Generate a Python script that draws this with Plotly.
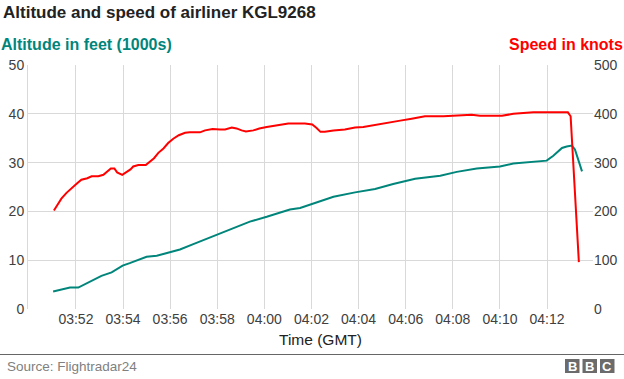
import plotly.graph_objects as go

DAY = "2015-10-31 "

speed_times = ["03:51:04", "03:51:15", "03:51:23", "03:51:36", "03:51:49", "03:52:04", "03:52:14",
               "03:52:29", "03:52:40", "03:52:57", "03:53:10", "03:53:22", "03:53:29", "03:53:38",
               "03:53:45", "03:53:58", "03:54:09", "03:54:19", "03:54:26", "03:54:39", "03:54:58",
               "03:55:08", "03:55:19", "03:55:30", "03:55:43", "03:55:55", "03:56:08", "03:56:22",
               "03:56:38", "03:56:50", "03:57:16", "03:57:29", "03:57:48", "03:58:07", "03:58:20",
               "03:58:37", "03:58:49", "03:59:02", "03:59:13", "03:59:32", "03:59:47", "04:00:06",
               "04:00:31", "04:01:01", "04:01:43", "04:02:02", "04:02:13", "04:02:23", "04:02:34",
               "04:02:56", "04:03:25", "04:03:51", "04:04:12", "04:04:38", "04:05:11", "04:05:46",
               "04:06:15", "04:06:49", "04:07:36", "04:08:18", "04:08:48", "04:09:09", "04:10:05",
               "04:10:34", "04:11:25", "04:12:16", "04:12:53", "04:13:00", "04:13:21"]
speed_knots = [202, 216, 226, 238, 248, 258, 265,
               268, 272, 272, 275, 282, 288, 288,
               280, 275, 280, 286, 292, 295, 295,
               301, 309, 320, 329, 340, 349, 356,
               361, 362, 362, 366, 369, 368, 368,
               372, 370, 366, 364, 366, 370, 373,
               376, 380, 380, 378, 371, 363, 363,
               366, 368, 372, 373, 377, 381, 386,
               390, 395, 395, 397, 398, 396, 396,
               400, 403, 403, 403, 395, 96]

alt_times = ["03:51:02", "03:51:45", "03:52:06", "03:52:27", "03:52:44", "03:53:05", "03:53:31",
             "03:53:44", "03:53:59", "03:54:17", "03:54:35", "03:55:00", "03:55:26", "03:55:59",
             "03:56:25", "03:56:59", "03:57:58", "03:58:41", "03:59:23", "04:00:06", "04:01:05",
             "04:01:31", "04:02:22", "04:02:56", "04:03:51", "04:04:42", "04:05:28", "04:06:24",
             "04:07:28", "04:08:10", "04:09:01", "04:10:00", "04:10:34", "04:11:25", "04:11:59",
             "04:12:16", "04:12:38", "04:12:50", "04:13:03", "04:13:11", "04:13:29"]
altitude_k = [3.6, 4.4, 4.4, 5.3, 6.0, 6.8, 7.5,
              8.2, 8.9, 9.4, 9.9, 10.7, 10.9, 11.6,
              12.2, 13.3, 15.2, 16.6, 17.9, 18.9, 20.4,
              20.7, 22.1, 23.0, 23.9, 24.6, 25.6, 26.7,
              27.3, 28.1, 28.8, 29.2, 29.8, 30.1, 30.4,
              31.4, 33.0, 33.3, 33.5, 32.7, 28.2]

x_tick_labels = ["03:52", "03:54", "03:56", "03:58", "04:00", "04:02",
                 "04:04", "04:06", "04:08", "04:10", "04:12"]
alt_ticks = [0, 10, 20, 30, 40, 50]
speed_ticks = [0, 100, 200, 300, 400, 500]

TEAL = "#00857b"
RED = "#ff0000"
GRID = "#d9d9d9"
FONT = "Liberation Sans, Arial, sans-serif"

W, H = 624, 379
ML, MR, MT, MB = 28, 31, 65, 70
PW = W - ML - MR
PH = H - MT - MB


def px(x):
    return (x - ML) / PW


def py(y):
    return (H - MB - y) / PH


fig = go.Figure()
fig.add_trace(go.Scatter(x=[DAY + t for t in alt_times], y=altitude_k, mode="lines",
                         line=dict(color=TEAL, width=2), yaxis="y", hoverinfo="skip"))
fig.add_trace(go.Scatter(x=[DAY + t for t in speed_times], y=speed_knots, mode="lines",
                         line=dict(color=RED, width=2), yaxis="y2", hoverinfo="skip"))

fig.update_layout(
    width=W, height=H,
    margin=dict(l=ML, r=MR, t=MT, b=MB, autoexpand=False),
    paper_bgcolor="white", plot_bgcolor="white",
    showlegend=False,
    font=dict(family=FONT, color="#404040", size=14),
    xaxis=dict(
        type="date",
        range=[DAY + "03:49:58", DAY + "04:13:57"],
        tickvals=[DAY + t + ":00" for t in x_tick_labels],
        ticktext=x_tick_labels,
        showgrid=True, gridcolor=GRID, gridwidth=1,
        zeroline=False, showline=False, ticks="",
        tickfont=dict(size=14, color="#404040"),
    ),
    yaxis=dict(
        range=[0, 50], tickvals=alt_ticks,
        showgrid=True, gridcolor=GRID, gridwidth=1,
        zeroline=False, showline=True, linecolor=GRID, linewidth=1,
        ticks="", tickfont=dict(size=14, color="#404040"),
    ),
    yaxis2=dict(
        range=[0, 500], tickvals=speed_ticks, overlaying="y", side="right",
        showgrid=False, zeroline=False, showline=False, ticks="",
        tickfont=dict(size=14, color="#404040"),
    ),
)

annotations = [
    dict(text="<b>Altitude and speed of airliner KGL9268</b>", x=px(1), y=py(12.5),
         xanchor="left", yanchor="middle", font=dict(size=17, color="#222222")),
    dict(text="<b>Altitude in feet (1000s)</b>", x=px(-1), y=py(45),
         xanchor="left", yanchor="middle", font=dict(size=16, color=TEAL)),
    dict(text="<b>Speed in knots</b>", x=px(625), y=py(45),
         xanchor="right", yanchor="middle", font=dict(size=16, color=RED)),
    dict(text="Time (GMT)", x=px(320), y=py(339),
         xanchor="center", yanchor="middle", font=dict(size=15.5, color="#222222")),
    dict(text="Source: Flightradar24", x=px(5), y=py(366),
         xanchor="left", yanchor="middle", font=dict(size=13.5, color="#808080")),
]
shapes = [
    dict(type="line", xref="paper", yref="paper", x0=px(0), x1=px(624), y0=py(354.5), y1=py(354.5),
         line=dict(color="#666666", width=1)),
]
for x0, letter in [(565, "B"), (582.5, "B"), (600, "C")]:
    shapes.append(dict(type="rect", xref="paper", yref="paper", x0=px(x0), x1=px(x0 + 14.5),
                       y0=py(373), y1=py(359), fillcolor="#6b6b6b", line=dict(width=0)))
    annotations.append(dict(text="<b>" + letter + "</b>", x=px(x0 + 7.25), y=py(366),
                            xanchor="center", yanchor="middle", showarrow=False,
                            font=dict(size=13, color="white", family=FONT)))

for a in annotations:
    a.setdefault("showarrow", False)
    a["xref"] = "paper"
    a["yref"] = "paper"
fig.update_layout(annotations=annotations, shapes=shapes)

fig.write_html("out.html", config={"displayModeBar": False},
               post_script="document.body.style.margin='0px';document.body.style.padding='0px';")
